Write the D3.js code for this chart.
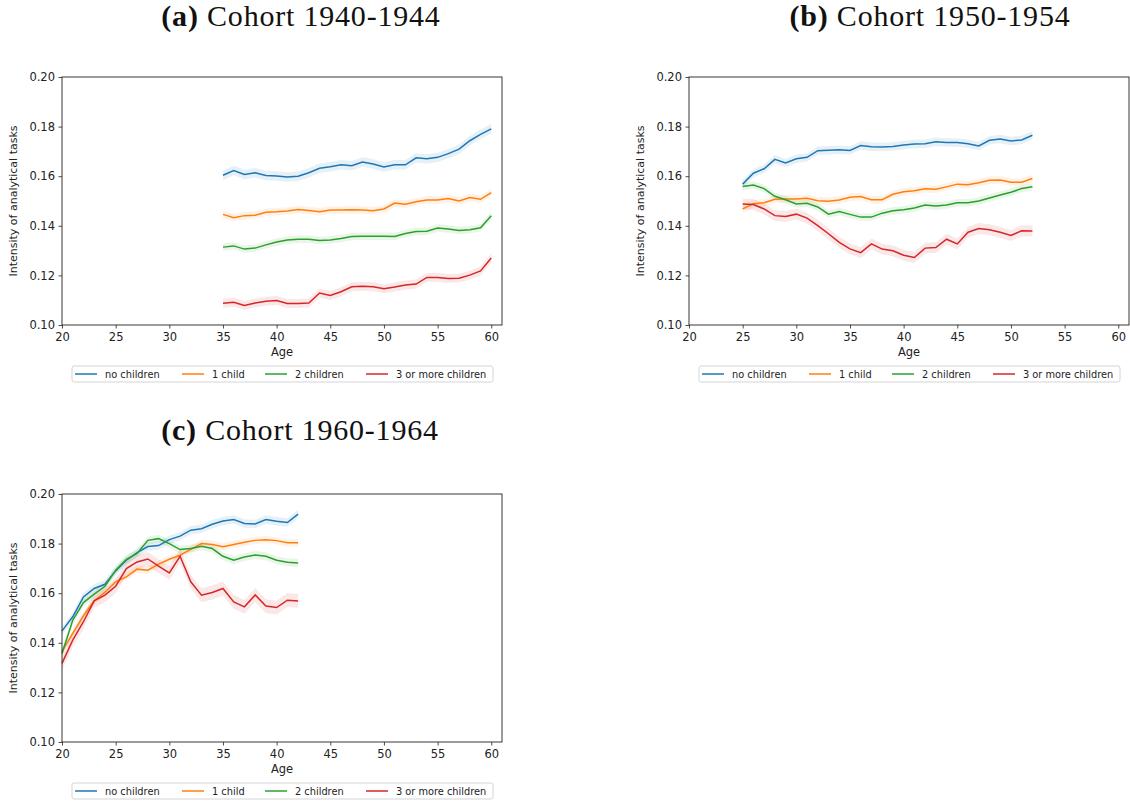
<!DOCTYPE html>
<html>
<head>
<meta charset="utf-8">
<script src="https://cdn.jsdelivr.net/npm/d3@7"></script>
<style>
  body { margin: 0; background: #fff; }
  svg { display: block; }
  .tick text { font-family: "DejaVu Sans", sans-serif; font-size: 11.5px; fill: #222; }
  .tick line { stroke: #222; stroke-width: 0.8; }
</style>
</head>
<body>
<svg id="chart" width="1130" height="805"></svg>
<script>
// legend labels
const series = ["no children", "1 child", "2 children", "3 or more children"];
const colors = ["#1f77b4", "#ff7f0e", "#2ca02c", "#d62728"];
const xTicks = [20, 25, 30, 35, 40, 45, 50, 55, 60];
const yTicks = [0.10, 0.12, 0.14, 0.16, 0.18, 0.20];

// (a) cohort 1940-1944, ages 35-60
const agesA = [35,36,37,38,39,40,41,42,43,44,45,46,47,48,49,50,51,52,53,54,55,56,57,58,59,60];
const aNone  = [0.1604,0.1623,0.1607,0.1614,0.1603,0.1601,0.1597,0.1600,0.1614,0.1632,0.1638,0.1646,0.1642,0.1657,0.1649,0.1637,0.1646,0.1646,0.1674,0.1670,0.1676,0.1691,0.1709,0.1743,0.1769,0.1791];
const aOne   = [0.1446,0.1433,0.1441,0.1443,0.1455,0.1457,0.1460,0.1466,0.1462,0.1457,0.1464,0.1464,0.1465,0.1464,0.1461,0.1468,0.1492,0.1487,0.1497,0.1504,0.1504,0.1510,0.1500,0.1514,0.1507,0.1534];
const aTwo   = [0.1314,0.1319,0.1306,0.1310,0.1323,0.1335,0.1343,0.1346,0.1346,0.1341,0.1343,0.1349,0.1357,0.1358,0.1358,0.1358,0.1357,0.1369,0.1377,0.1378,0.1391,0.1387,0.1381,0.1384,0.1392,0.1441];
const aThree = [0.1088,0.1092,0.1079,0.1089,0.1096,0.1099,0.1087,0.1087,0.1089,0.1129,0.1119,0.1134,0.1154,0.1156,0.1154,0.1146,0.1153,0.1161,0.1165,0.1192,0.1192,0.1188,0.1189,0.1201,0.1218,0.1270];
const bandA  = [0.0019, 0.0015, 0.0015, 0.0018];

// (b) cohort 1950-1954, ages 25-52
const agesB = [25,26,27,28,29,30,31,32,33,34,35,36,37,38,39,40,41,42,43,44,45,46,47,48,49,50,51,52];
const bNone  = [0.1568,0.1612,0.1630,0.1668,0.1653,0.1670,0.1676,0.1703,0.1705,0.1707,0.1704,0.1724,0.1719,0.1718,0.1720,0.1726,0.1730,0.1731,0.1739,0.1736,0.1736,0.1731,0.1722,0.1745,0.1750,0.1742,0.1746,0.1765];
const bOne   = [0.1468,0.1489,0.1493,0.1507,0.1508,0.1508,0.1511,0.1501,0.1499,0.1504,0.1515,0.1518,0.1505,0.1505,0.1527,0.1537,0.1541,0.1549,0.1547,0.1557,0.1568,0.1566,0.1574,0.1584,0.1585,0.1576,0.1576,0.1591];
const bTwo   = [0.1558,0.1564,0.1550,0.1519,0.1505,0.1488,0.1491,0.1476,0.1447,0.1458,0.1446,0.1435,0.1435,0.1451,0.1461,0.1465,0.1472,0.1484,0.1480,0.1484,0.1493,0.1493,0.1500,0.1512,0.1524,0.1535,0.1550,0.1557];
const bThree = [0.1488,0.1486,0.1468,0.1441,0.1438,0.1447,0.1431,0.1401,0.1368,0.1333,0.1307,0.1292,0.1327,0.1306,0.1299,0.1281,0.1272,0.1310,0.1312,0.1346,0.1327,0.1374,0.1389,0.1384,0.1374,0.1361,0.1380,0.1379];
const bandB  = [0.0017, 0.0015, 0.0015, 0.0022];

// (c) cohort 1960-1964, ages 20-42
const agesC = [20,21,22,23,24,25,26,27,28,29,30,31,32,33,34,35,36,37,38,39,40,41,42];
const cNone  = [0.1448,0.1505,0.1585,0.1619,0.1636,0.1690,0.1733,0.1764,0.1788,0.1792,0.1816,0.1830,0.1854,0.1860,0.1878,0.1891,0.1897,0.1881,0.1879,0.1897,0.1890,0.1885,0.1919];
const cOne   = [0.1364,0.1438,0.1509,0.1569,0.1604,0.1646,0.1666,0.1697,0.1693,0.1717,0.1737,0.1753,0.1777,0.1800,0.1796,0.1787,0.1796,0.1805,0.1813,0.1816,0.1812,0.1803,0.1803];
const cTwo   = [0.1357,0.1491,0.1562,0.1596,0.1628,0.1693,0.1736,0.1760,0.1813,0.1820,0.1800,0.1776,0.1780,0.1789,0.1780,0.1749,0.1733,0.1746,0.1754,0.1749,0.1733,0.1725,0.1722];
const cThree = [0.1317,0.1411,0.1485,0.1569,0.1592,0.1628,0.1699,0.1726,0.1738,0.1709,0.1682,0.1749,0.1646,0.1592,0.1603,0.1619,0.1565,0.1545,0.1593,0.1548,0.1542,0.1572,0.1569];
const bandC  = [0.0017, 0.0015, 0.0016, 0.0028];

const panels = [
  { label: "(a)", title: "Cohort 1940-1944", left: 62,  top: 77,  titleX: 301, titleY: 26,
    ages: agesA, values: [aNone, aOne, aTwo, aThree], band: bandA },
  { label: "(b)", title: "Cohort 1950-1954", left: 689, top: 77,  titleX: 930, titleY: 26,
    ages: agesB, values: [bNone, bOne, bTwo, bThree], band: bandB },
  { label: "(c)", title: "Cohort 1960-1964", left: 62,  top: 494, titleX: 300, titleY: 440,
    ages: agesC, values: [cNone, cOne, cTwo, cThree], band: bandC }
];

const W = 440, H = 248;
const svg = d3.select("#chart");

panels.forEach(function(p) {
  const g = svg.append("g").attr("transform", "translate(" + p.left + "," + p.top + ")");
  const x = d3.scaleLinear().domain([20, 61]).range([0, W]);
  const y = d3.scaleLinear().domain([0.10, 0.20]).range([H, 0]);

  // title
  const t = svg.append("text")
    .attr("x", p.titleX).attr("y", p.titleY)
    .attr("text-anchor", "middle")
    .style("font-family", "'Liberation Serif', serif")
    .style("font-size", "30px").style("letter-spacing", "0.8px").style("fill", "#111");
  t.append("tspan").style("font-weight", "bold").text(p.label);
  t.append("tspan").text(" " + p.title);

  // bands then lines
  p.values.forEach(function(vals, i) {
    const pts = p.ages.map(function(a, k) { return { a: a, v: vals[k] }; });
    g.append("path").datum(pts)
      .attr("fill", colors[i]).attr("fill-opacity", 0.11)
      .attr("d", d3.area()
        .x(function(d) { return x(d.a); })
        .y0(function(d) { return y(d.v - p.band[i]); })
        .y1(function(d) { return y(d.v + p.band[i]); }));
  });
  p.values.forEach(function(vals, i) {
    const pts = p.ages.map(function(a, k) { return { a: a, v: vals[k] }; });
    g.append("path").datum(pts)
      .attr("fill", "none").attr("stroke", colors[i]).attr("stroke-width", 1.5)
      .attr("d", d3.line().x(function(d) { return x(d.a); }).y(function(d) { return y(d.v); }));
  });

  // axes
  g.append("g").attr("transform", "translate(0," + H + ")")
    .call(d3.axisBottom(x).tickValues(xTicks).tickSize(3.5).tickPadding(4)
      .tickFormat(d3.format("d")))
    .call(function(a) { a.select(".domain").remove(); });
  g.append("g")
    .call(d3.axisLeft(y).tickValues(yTicks).tickSize(3.5).tickPadding(3.5)
      .tickFormat(d3.format(".2f")))
    .call(function(a) { a.select(".domain").remove(); });
  g.selectAll(".tick text").attr("fill", "#222");

  g.append("rect").attr("width", W).attr("height", H)
    .attr("fill", "none").attr("stroke", "#222").attr("stroke-width", 0.9);

  // axis labels
  g.append("text").attr("x", W / 2).attr("y", H + 31)
    .attr("text-anchor", "middle")
    .style("font-family", "'DejaVu Sans', sans-serif").style("font-size", "11.5px").style("fill", "#222")
    .text("Age");
  g.append("text").attr("transform", "translate(-45," + (H / 2) + ") rotate(-90)")
    .attr("text-anchor", "middle")
    .style("font-family", "'DejaVu Sans', sans-serif").style("font-size", "11px").style("fill", "#222")
    .text("Intensity of analytical tasks");

  // legend
  const lg = g.append("g").attr("transform", "translate(10," + (H + 41) + ")");
  lg.append("rect").attr("width", 421).attr("height", 16).attr("rx", 2)
    .attr("fill", "#fff").attr("stroke", "#d0d0d0").attr("stroke-width", 0.9);
  const offs = [3, 110, 193, 294];
  series.forEach(function(s, i) {
    lg.append("line").attr("x1", offs[i]).attr("x2", offs[i] + 22)
      .attr("y1", 8).attr("y2", 8)
      .attr("stroke", colors[i]).attr("stroke-width", 1.5);
    lg.append("text").attr("x", offs[i] + 30).attr("y", 11.5)
      .style("font-family", "'DejaVu Sans', sans-serif").style("font-size", "9.8px").style("fill", "#222")
      .text(s);
  });
});
</script>
</body>
</html>
